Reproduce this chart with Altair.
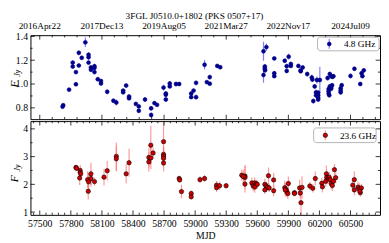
import altair as alt
import pandas as pd

TITLE = "3FGL J0510.0+1802 (PKS 0507+17)"
FONT = "Liberation Serif"

# top date axis
top_dates = ["2016Apr22", "2017Dec13", "2019Aug05", "2021Mar27", "2022Nov17", "2024Jul09"]
top_date_mjd = [57500, 58100, 58700, 59300, 59900, 60500]
x_ticks = [57500, 57800, 58100, 58400, 58700, 59000, 59300, 59600, 59900, 60200, 60500]
y1_ticks = [0.8, 1.0, 1.2, 1.4]
y1_minor = [0.9, 1.1, 1.3]
y2_ticks = [1, 2, 3, 4]
y2_minor = [1.5, 2.5, 3.5]

# 4.8 GHz
mjd48 = [57720, 57726, 57783, 57818, 57818, 57849, 57849, 57877, 57877, 57905,
         57940, 57971, 57971, 57971, 57994, 57994, 58028, 58028, 58028, 58060,
         58091, 58091, 58151, 58211, 58239, 58305, 58305, 58334, 58362, 58362,
         58428, 58456, 58456, 58516, 58575, 58575, 58607, 58632, 58695, 58717,
         58717, 58717, 58755, 58755, 58815, 58846, 58962, 58962, 58985, 59009,
         59009, 59091, 59113, 59141, 59141, 59214, 59242, 59660, 59660, 59688,
         59673, 59673, 59675, 59764, 59764, 59764, 59865, 59884, 59884, 59903,
         59924, 59924, 59997, 60019, 60019, 60038, 60082, 60126, 60132, 60154,
         60141, 60167, 60167, 60176, 60188, 60188, 60188, 60188, 60204, 60279,
         60289, 60289, 60289, 60300, 60313, 60322, 60313, 60300, 60313, 60335,
         60325, 60295, 60405, 60405, 60405, 60415, 60500, 60538, 60594, 60607,
         60615, 60628]
flux48 = [0.810, 0.822, 0.953, 1.180, 1.147, 1.100, 0.998, 1.155, 1.262, 1.220,
          1.350, 1.246, 1.225, 1.180, 1.140, 1.120, 1.150, 1.135, 1.100, 1.040,
          1.025, 1.005, 0.935, 0.860, 0.845, 0.945, 0.930, 0.987, 0.895, 0.880,
          0.833, 0.812, 0.775, 0.870, 0.796, 0.740, 0.840, 0.825, 0.970, 0.920,
          0.910, 0.870, 1.005, 0.980, 1.000, 1.000, 0.920, 0.890, 0.945, 1.010,
          0.890, 1.162, 1.016, 1.058, 1.003, 1.152, 1.141, 1.275, 1.076, 1.310,
          1.147, 1.130, 1.115, 1.215, 1.090, 1.066, 1.196, 1.150, 1.110, 1.230,
          1.168, 1.152, 1.152, 1.115, 1.107, 1.139, 1.084, 1.055, 1.037, 0.980,
          0.857, 0.930, 0.906, 1.034, 0.927, 0.906, 0.886, 0.870, 1.034, 1.050,
          0.958, 0.940, 0.920, 0.980, 0.970, 0.990, 0.960, 1.084, 1.066, 1.066,
          1.060, 0.906, 0.964, 0.945, 0.930, 0.990, 1.068, 1.128, 1.000, 1.090,
          1.066, 1.115]
err48 = [0.015, 0.015, 0.012, 0.020, 0.015, 0.015, 0.012, 0.015, 0.020, 0.012,
         0.040, 0.020, 0.025, 0.015, 0.015, 0.020, 0.020, 0.015, 0.015, 0.012,
         0.015, 0.015, 0.020, 0.012, 0.025, 0.015, 0.015, 0.015, 0.015, 0.015,
         0.012, 0.015, 0.015, 0.020, 0.020, 0.020, 0.015, 0.015, 0.025, 0.020,
         0.015, 0.020, 0.020, 0.015, 0.020, 0.015, 0.015, 0.015, 0.015, 0.020,
         0.020, 0.040, 0.015, 0.020, 0.015, 0.015, 0.015, 0.080, 0.065, 0.030,
         0.020, 0.020, 0.020, 0.015, 0.020, 0.015, 0.015, 0.020, 0.015, 0.025,
         0.020, 0.015, 0.015, 0.015, 0.015, 0.015, 0.020, 0.025, 0.020, 0.020,
         0.020, 0.025, 0.025, 0.030, 0.020, 0.020, 0.025, 0.020, 0.110, 0.020,
         0.020, 0.020, 0.020, 0.020, 0.015, 0.015, 0.015, 0.020, 0.020, 0.015,
         0.015, 0.020, 0.015, 0.020, 0.020, 0.015, 0.020, 0.015, 0.015, 0.020,
         0.015, 0.020]

# 23.6 GHz
mjd236 = [57849, 57855, 57890, 57890, 57895, 57885, 57962, 57971, 57968, 57994,
          57994, 58028, 58120, 58151, 58239, 58239, 58334, 58362, 58553, 58553,
          58572, 58572, 58594, 58695, 58695, 58695, 58695, 58695, 58846, 58851,
          58868, 58962, 58962, 59047, 59091, 59207, 59207, 59236, 59299, 59450,
          59481, 59481, 59481, 59465, 59547, 59560, 59575, 59590, 59575, 59600,
          59673, 59685, 59673, 59700, 59715, 59708, 59758, 59758, 59865, 59875,
          59885, 59895, 59900, 59870, 59959, 59959, 60009, 60015, 60032, 60022,
          60107, 60136, 60160, 60223, 60229, 60261, 60267, 60270, 60285, 60295,
          60305, 60315, 60325, 60335, 60345, 60357, 60522, 60537, 60537, 60572,
          60585, 60595, 60605, 60590]
flux236 = [2.61, 2.58, 2.50, 2.43, 2.38, 2.23, 2.17, 2.09, 1.75, 2.38,
           2.21, 2.10, 2.26, 2.49, 3.01, 2.92, 2.38, 2.78, 2.97, 2.81,
           3.41, 2.95, 3.13, 3.54, 3.08, 3.02, 2.94, 2.77, 2.21, 2.16,
           1.74, 1.67, 1.55, 2.17, 2.21, 1.97, 1.88, 1.95, 1.95, 2.33,
           2.30, 2.25, 2.01, 2.28, 2.05, 1.95, 2.05, 2.02, 1.90, 2.00,
           2.00, 1.94, 1.80, 1.90, 1.87, 2.31, 2.16, 1.77, 1.88, 1.82,
           1.75, 1.67, 2.03, 1.80, 1.70, 1.67, 1.87, 1.69, 1.89, 1.34,
           1.94, 1.86, 2.21, 2.04, 1.91, 2.11, 2.38, 2.25, 2.21, 2.25,
           2.17, 2.02, 1.96, 2.11, 2.53, 2.24, 1.97, 2.17, 1.80, 1.90,
           1.84, 1.70, 1.87, 1.76]
err236 = [0.10, 0.10, 0.20, 0.20, 0.20, 0.25, 0.30, 0.30, 0.30, 0.40,
          0.30, 0.15, 0.30, 0.35, 0.50, 0.45, 0.35, 0.50, 0.35, 0.35,
          0.70, 0.40, 0.20, 0.70, 0.30, 0.30, 0.30, 0.30, 0.10, 0.10,
          0.25, 0.12, 0.10, 0.12, 0.12, 0.15, 0.15, 0.15, 0.10, 0.20,
          0.40, 0.40, 0.30, 0.25, 0.20, 0.20, 0.20, 0.15, 0.20, 0.15,
          0.20, 0.15, 0.15, 0.15, 0.15, 0.30, 0.25, 0.20, 0.25, 0.20,
          0.20, 0.20, 0.25, 0.25, 0.08, 0.08, 0.30, 0.20, 0.40, 0.45,
          0.15, 0.15, 0.25, 0.20, 0.20, 0.20, 0.30, 0.25, 0.20, 0.20,
          0.20, 0.20, 0.20, 0.20, 0.20, 0.20, 0.20, 0.30, 0.20, 0.20,
          0.20, 0.15, 0.15, 0.15]

W, H1, H2 = 358, 86, 96
XDOM = [57410, 60785]
xs = alt.Scale(domain=XDOM, nice=False, zero=False)

def make_df(m, f, e):
    d = pd.DataFrame({"mjd": m, "flux": f, "err": e})
    d["lo"] = d["flux"] - d["err"]
    d["hi"] = d["flux"] + d["err"]
    return d

one = pd.DataFrame({"k": [0]})


def panel(df, ydom, yticks, yminor, yfmt, xaxis, xtop_major, xtop_minor,
          xbot_major, xbot_minor, H, pt_color, pt_stroke, err_color,
          leg_text, leg_box, ytitle_pos, pt_size, extra=None):
    ys = alt.Scale(domain=ydom, nice=False, zero=False)
    yaxis = alt.Axis(values=yticks, format=yfmt, grid=False, domain=False,
                     ticks=False, labelPadding=3, labelFont=FONT,
                     labelFontSize=10, title=None)
    X = lambda f: alt.X(f, scale=xs, axis=xaxis, title=None if xaxis is None else "MJD")
    Y = lambda f: alt.Y(f, scale=ys, axis=yaxis)
    base = alt.Chart(df)
    errs = base.mark_rule(color=err_color, strokeWidth=1.2, opacity=0.7).encode(
        x=X("mjd:Q"), y=Y("lo:Q"), y2="hi:Q")
    pts = base.mark_point(shape="circle", filled=True, size=pt_size, fill=pt_color,
                          stroke=pt_stroke, strokeWidth=0.6, opacity=1).encode(
        x=X("mjd:Q"), y=Y("flux:Q"))
    layers = [errs, pts]

    def xt(vals, y0, y1):
        return alt.Chart(pd.DataFrame({"v": vals})).mark_rule(
            color="black", strokeWidth=0.8).encode(
            x=X("v:Q"), y=alt.value(y0), y2=alt.value(y1))

    def yt(vals, x0, x1):
        return alt.Chart(pd.DataFrame({"v": vals})).mark_rule(
            color="black", strokeWidth=0.8).encode(
            y=Y("v:Q"), x=alt.value(x0), x2=alt.value(x1))

    layers += [xt(xtop_major, 0, 4.5), xt(xtop_minor, 0, 2.2),
               xt(xbot_major, H, H - 4.5), xt(xbot_minor, H, H - 2.2),
               yt(yticks, 0, 4.5), yt(yminor, 0, 2.2),
               yt(yticks, W, W - 4.5), yt(yminor, W, W - 2.2)]

    # legend
    bx0, bx1, by0, by1 = leg_box
    cy = (by0 + by1) / 2
    sx = bx0 + 12
    layers.append(alt.Chart(one).mark_rect(fill="white", stroke="#a0a0a0",
                                           strokeWidth=0.8, cornerRadius=3).encode(
        x=alt.value(bx0), x2=alt.value(bx1), y=alt.value(by0), y2=alt.value(by1)))
    layers.append(alt.Chart(one).mark_rule(color=err_color, strokeWidth=1.2,
                                           opacity=0.7).encode(
        x=alt.value(sx), y=alt.value(cy - 5), y2=alt.value(cy + 5)))
    layers.append(alt.Chart(one).mark_point(shape="circle", filled=True, size=pt_size,
                                            fill=pt_color, stroke=pt_stroke,
                                            strokeWidth=0.6, opacity=1).encode(
        x=alt.value(sx), y=alt.value(cy)))
    layers.append(alt.Chart(pd.DataFrame({"t": [leg_text]})).mark_text(
        align="left", baseline="middle", font=FONT, fontSize=9.5,
        color="black").encode(x=alt.value(sx + 15), y=alt.value(cy + 0.5), text="t:N"))

    # y title F_Jy
    (fx, fy), (jx, jy) = ytitle_pos
    layers.append(alt.Chart(pd.DataFrame({"t": ["F"]})).mark_text(
        angle=270, font=FONT, fontStyle="italic", fontSize=11.5, color="black",
        align="center", baseline="middle").encode(
        x=alt.value(fx), y=alt.value(fy), text="t:N"))
    layers.append(alt.Chart(pd.DataFrame({"t": ["Jy"]})).mark_text(
        angle=270, font=FONT, fontStyle="italic", fontSize=8, color="black",
        align="center", baseline="middle").encode(
        x=alt.value(jx), y=alt.value(jy), text="t:N"))

    if extra:
        layers += extra(X)
    return alt.layer(*layers).properties(width=W, height=H)


top_major = top_date_mjd
top_minor = [m for m in range(57500, XDOM[1], 120) if m not in top_major]
bot_minor = [m for m in range(57440, XDOM[1], 60) if m not in x_ticks]


def top_extra(X):
    dates = pd.DataFrame({"mjd": top_date_mjd, "lab": top_dates})
    d = alt.Chart(dates).mark_text(font=FONT, fontSize=9.5, color="black",
                                   baseline="middle").encode(
        x=X("mjd:Q"), y=alt.value(-9), text="lab:N")
    t = alt.Chart(pd.DataFrame({"t": [TITLE]})).mark_text(
        font=FONT, fontSize=9.5, color="black", baseline="middle").encode(
        x=alt.value(168), y=alt.value(-19.5), text="t:N")
    return [d, t]


top = panel(make_df(mjd48, flux48, err48), [0.705, 1.41], y1_ticks, y1_minor, ".1f",
            None, top_major, top_minor, top_major, top_minor, H1,
            "#00008b", "#00008b", "#4a4aff", "4.8 GHz", (294, 357, 2, 16),
            ((-16, 50), (-13, 39)), 16, extra=top_extra)

bxaxis = alt.Axis(values=x_ticks, format="d", grid=False, domain=False, ticks=False,
                  labelFont=FONT, labelFontSize=10, labelPadding=4, labelFlush=False,
                  titleFont=FONT, titleFontSize=10, titleFontWeight="normal",
                  titlePadding=2, titleColor="black", labelColor="black")

bottom = panel(make_df(mjd236, flux236, err236), [0.9, 4.28], y2_ticks, y2_minor, "d",
               bxaxis, x_ticks, bot_minor, x_ticks, bot_minor, H2,
               "#d00000", "black", "#ff7070", "23.6 GHz", (290, 354, 7, 22),
               ((-16, 59), (-13, 48)), 20)

chart = alt.vconcat(top, bottom, spacing=0).properties(
    padding={"left": 0, "top": 0, "right": 0, "bottom": 0}
).configure_view(stroke="black", strokeWidth=1).configure_axis(
    labelColor="black", titleColor="black")

chart.save("out.html", embed_options={"renderer": "svg", "actions": False})
